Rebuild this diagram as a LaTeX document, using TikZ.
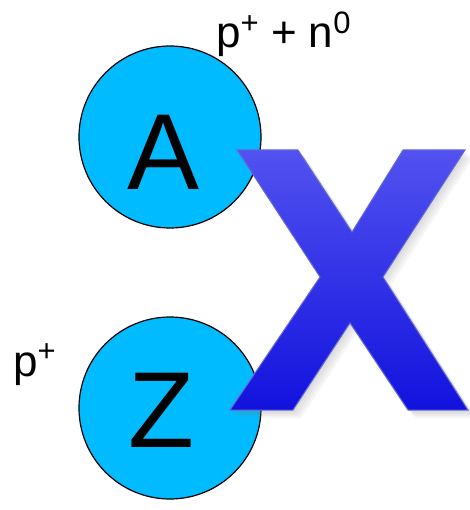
\documentclass[tikz,border=0pt]{standalone}
\usepackage{fontspec}
\setmainfont{Liberation Sans}
\usepackage{tikz}
\usetikzlibrary{shadows}

\definecolor{nucfill}{RGB}{0,187,255}
\definecolor{xtop}{RGB}{82,82,240}
\definecolor{xbot}{RGB}{18,18,222}
\definecolor{xedge}{RGB}{105,105,215}

\newcommand{\chargesup}[1]{\raisebox{0.34em}{\fontsize{31}{33}\selectfont #1}}

\tikzset{
  nucleus/.style={circle,draw=black,line width=1.2pt,fill=nucfill,minimum size=182pt,inner sep=0pt},
  bigletter/.style={anchor=base,inner sep=0pt,font=\fontsize{108}{110}\selectfont},
  countlabel/.style={anchor=base west,inner sep=0pt,font=\fontsize{44}{48}\selectfont},
  softshadow/.style={drop shadow={opacity=0.08,shadow xshift=#1,shadow yshift=-#1}},
}

\begin{document}
\begin{tikzpicture}[x=1pt,y=-1pt]
  \useasboundingbox (0,0) rectangle (469,510);
  \node[nucleus] (atomA) at (170,137) {};
  \node[nucleus] (atomZ) at (170,408) {};
  \node[bigletter] (symA) at (164,190) {A};
  \node[bigletter] (symZ) at (161,447) {Z};
  \node[countlabel] (nucleons) at (216,48) {p\chargesup{+} + n\chargesup{0}};
  \node[countlabel] (protons) at (13,376) {p\chargesup{+}};
  % the big X
  \coordinate (tl1) at (237,150);
  \coordinate (tl2) at (298,150);
  \coordinate (ct) at (352,232);
  \coordinate (tr1) at (403,150);
  \coordinate (tr2) at (465,150);
  \coordinate (cr) at (383,277);
  \coordinate (br2) at (468,410);
  \coordinate (br1) at (408,410);
  \coordinate (cb) at (350,323);
  \coordinate (bl2) at (293,410);
  \coordinate (bl1) at (230,410);
  \coordinate (cl) at (320,277);
  \draw[draw=xedge,line width=1pt,line join=miter,top color=xtop,bottom color=xbot,
        softshadow=2pt,softshadow=4pt,softshadow=6pt,softshadow=8pt]
    (tl1) -- (tl2) -- (ct) -- (tr1) -- (tr2) -- (cr) -- (br2) -- (br1)
    -- (cb) -- (bl2) -- (bl1) -- (cl) -- cycle;
\end{tikzpicture}
\end{document}
